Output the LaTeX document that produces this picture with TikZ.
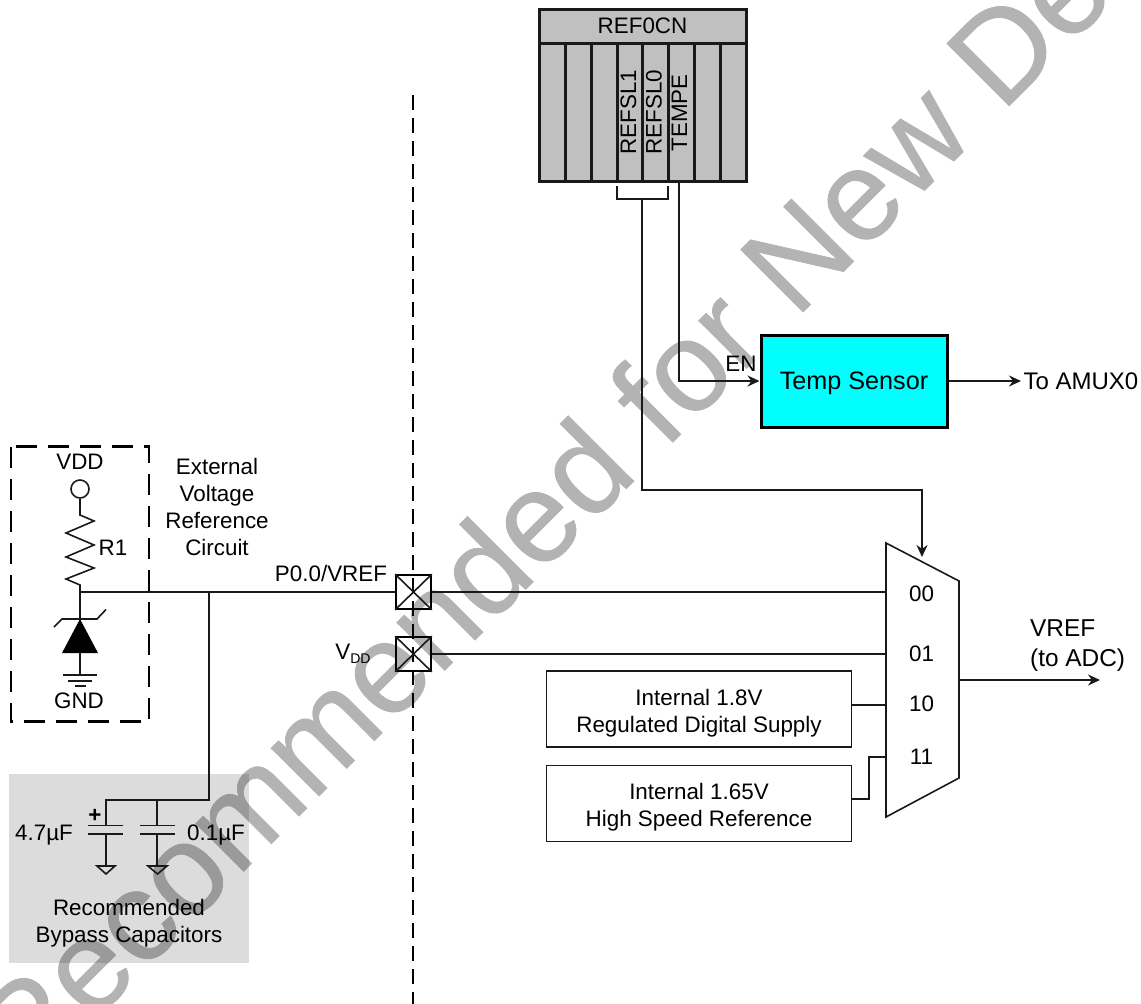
\documentclass[tikz,border=0pt]{standalone}
\usepackage{fontspec}
\setmainfont{Liberation Sans}
\newfontfamily\wmfont[FakeBold=0.6]{Liberation Sans}
\usetikzlibrary{arrows.meta,calc}
\definecolor{wmgray}{HTML}{B3B3B3}
\definecolor{regfill}{HTML}{C0C0C0}
\definecolor{bypass}{HTML}{DCDCDC}
\definecolor{tempcyan}{HTML}{00FFFF}
\tikzset{
  x=1pt,y=-1pt,
  wire/.style={draw=black!90,line width=1.6pt},
  arrowwire/.style={wire,-{Stealth[length=12pt,width=11pt]}},
  heavy/.style={draw=black!90,line width=3pt},
  txt/.style={inner sep=0pt,font=\fontsize{22.4}{27}\selectfont,align=center,text=black},
  ibox/.style={draw=black!90,line width=1.6pt,inner sep=0pt,minimum width=305pt,minimum height=76pt,font=\fontsize{22.4}{27}\selectfont,align=center},
  padbox/.style={draw=black,line width=1.6pt,inner sep=0pt,minimum width=35pt,minimum height=34pt},
}
\newcommand{\padcross}[1]{\draw[wire] (#1.north west)--(#1.south east) (#1.north east)--(#1.south west);}
\begin{document}
\begin{tikzpicture}
\useasboundingbox (0,0) rectangle (1141,1004);
\clip (0,0) rectangle (1141,1004);
% watermark
\node[inner sep=0pt,anchor=base west,rotate=45,text=wmgray,font=\wmfont\fontsize{128}{128}\selectfont] (wm) at (26,1089) {Recommended for New De};
% bypass panel
\begin{scope}[blend mode=multiply]
\fill[bypass] (9,774) rectangle (249,963);
\end{scope}
\coordinate (pnl) at (129,963);
% centre dashed line
\coordinate (dtop) at (413,95);
\coordinate (dbot) at (413,1004);
\draw[draw=black,line width=2.6pt,dash pattern=on 15pt off 8pt] (dtop)--(dbot);
% external circuit box
\draw[draw=black,line width=2.6pt,dash pattern=on 21pt off 11pt] (11,446.5) rectangle (149,721.5);
\node[txt] (vddt) at (80,462) {VDD};
\node[draw=black!90,line width=1.6pt,circle,minimum size=18pt,inner sep=0pt] (vddc) at (80,489) {};
\coordinate (zigtop) at (80,515);
\coordinate (zj) at (80,592);
\draw[wire] (vddc.south)--(zigtop)--(94,521)--(66,533)--(94,545)--(66,557)--(94,568)--(66,579)--(80,585)--(zj);
\node[txt] (r1) at (113,548) {R1};
\node[txt] (ext) at (217,506.5) {External\\Voltage\\Reference\\Circuit};
% zener
\coordinate (zap) at (80,619);
\coordinate (zb) at (80,653);
\coordinate (zg) at (80,675);
\draw[wire] (zj)--(zap);
\draw[wire] (54,627)--(62,619)--(97,619)--(106,609.5);
\fill[black] (zap)--(98,653)--(62,653)--cycle;
\draw[wire] (zb)--(zg);
\draw[wire] (63,675)--(97,675) (68,681)--(92,681) (75,686)--(86,686);
\node[txt] (gnd) at (79,701) {GND};
% pads
\node[padbox] (pad0) at (413.5,592) {};
\node[padbox] (pad1) at (413.5,654) {};
\padcross{pad0}
\padcross{pad1}
\node[txt] (p00) at (331,573.5) {P0.0/VREF};
\node[txt] (vdd) at (353,654) {V{\fontsize{14}{14}\selectfont\raisebox{-4pt}{DD}}};
% bypass capacitors
\coordinate (j1) at (209,592);
\coordinate (j2) at (209,800);
\coordinate (c1) at (106,800);
\coordinate (c2) at (157,800);
\draw[wire] (zj)--(pad0.west);
\draw[wire] (j1)--(j2)--(c1)--(106,825.5);
\draw[wire] (c2)--(157,825.5);
\draw[wire] (88,825.5)--(123,825.5) (88,834)--(123,834);
\draw[wire] (140,825.5)--(175,825.5) (140,834)--(175,834);
\draw[wire] (106,834)--(106,866) (157,834)--(157,866);
\draw[wire,line join=miter] (97,866)--(115,866)--(106,874)--cycle;
\draw[wire,line join=miter] (148,866)--(167,866)--(157.5,874)--cycle;
\node[txt] (plus) at (95,816) {\textbf{+}};
\node[txt] (c47) at (44,835) {4.7µF};
\node[txt] (c01) at (216,835) {0.1µF};
\node[txt] (bp) at (129,923.5) {Recommended\\Bypass Capacitors};
% register
\node[draw=black!90,line width=3pt,fill=regfill,inner sep=0pt,minimum width=207pt,minimum height=34pt,font=\fontsize{22.4}{27}\selectfont] (hdr) at (642.5,26) {REF0CN};
\node[draw=black!90,line width=3pt,fill=regfill,inner sep=0pt,minimum width=207pt,minimum height=138pt] (reg) at (642.5,112) {};
\foreach \i/\xx in {1/565,2/591,3/617,4/642,5/668,6/694,7/720}{
  \draw[heavy] (\xx,43)--(\xx,181);
}
\node[txt,rotate=90] (b1) at (628.5,112) {REFSL1};
\node[txt,rotate=90] (b0) at (654,112) {REFSL0};
\node[txt,rotate=90] (bt) at (679.5,113) {TEMPE};
% bracket and control wires
\coordinate (brl) at (617,186);
\coordinate (brr) at (668,186);
\coordinate (brc) at (642,199);
\draw[wire] (brl)--(617,199)--(668,199)--(brr);
% temp sensor
\node[draw=black,line width=3pt,fill=tempcyan,inner sep=0pt,minimum width=186pt,minimum height=92pt,font=\fontsize{25.2}{27}\selectfont] (temp) at (854,381) {\rule{0pt}{23pt}Temp Sensor};
\coordinate (tstart) at (679,181);
\draw[arrowwire] (tstart)--(679,381)--(temp.west);
\node[txt] (en) at (741,364) {EN};
\coordinate (amux) at (1021,381);
\draw[arrowwire] (temp.east)--(amux);
\node[inner sep=0pt,font=\fontsize{24}{27}\selectfont] (amuxt) at (1081,381) {To AMUX0};
% mux
\coordinate (mtl) at (886,543);
\coordinate (mtr) at (959,581);
\coordinate (mbr) at (959,778);
\coordinate (mbl) at (886,817);
\draw[wire,line join=miter] (mtl)--(mtr)--(mbr)--(mbl)--cycle;
\coordinate (msel) at (922,557);
\draw[arrowwire] (brc)--(642,490)--(922,490)--(msel);
\node[txt] (m0) at (921.5,594) {00};
\node[txt] (m1) at (921.5,654) {01};
\node[txt] (m2) at (921.5,704) {10};
\node[txt] (m3) at (921.5,757) {11};
\draw[wire] (pad0.east)--(886,592);
\draw[wire] (pad1.east)--(886,654);
\node[ibox] (int18) at (699,709) {\rule{0pt}{24pt}Internal 1.8V\\Regulated Digital Supply};
\node[ibox] (int165) at (699,803.5) {\rule{0pt}{24pt}Internal 1.65V\\High Speed Reference};
\draw[wire] (851.5,705)--(886,705);
\draw[wire] (851.5,799)--(869,799)--(869,757)--(886,757);
\coordinate (mout) at (959,680);
\coordinate (vr) at (1100,680);
\draw[arrowwire] (mout)--(vr);
\node[txt,align=left,anchor=west,font=\fontsize{24.4}{30}\selectfont] (vreft) at (1030,646) {VREF\\(to ADC)};
\end{tikzpicture}
\end{document}
